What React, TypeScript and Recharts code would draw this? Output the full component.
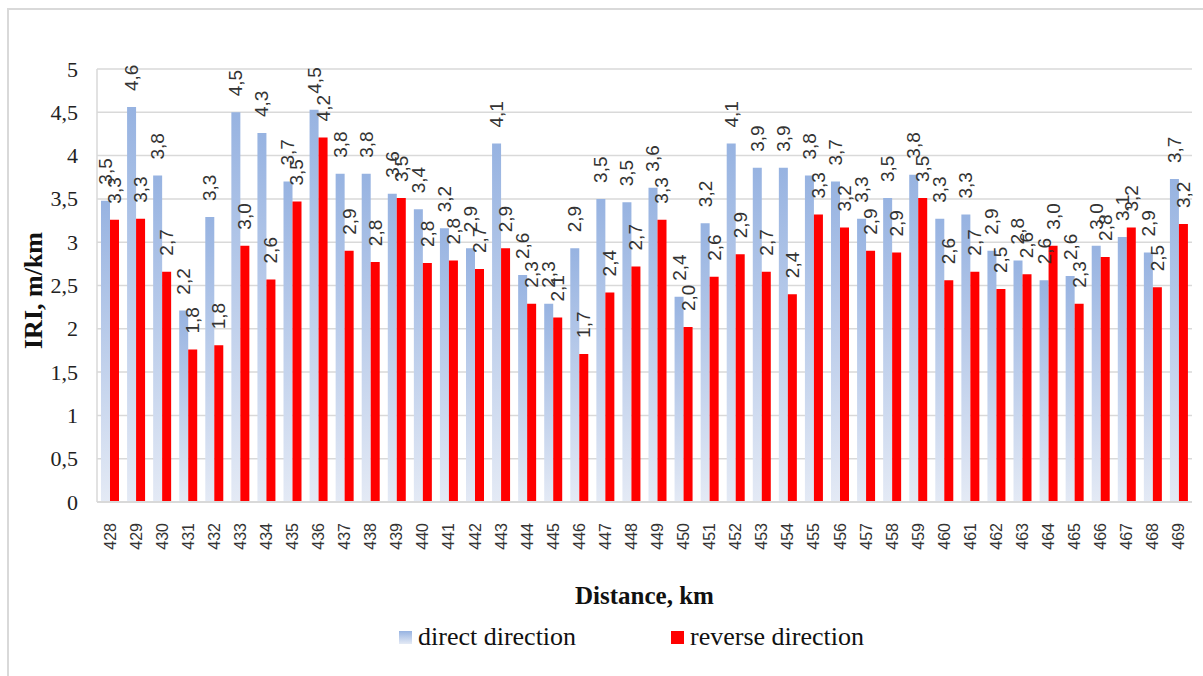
import React from "react";
import { BarChart, Bar, XAxis, YAxis, CartesianGrid, Legend, LabelList } from "recharts";

// km markers along the road section
const distances = [
  428, 429, 430, 431, 432, 433, 434, 435, 436, 437, 438, 439, 440, 441,
  442, 443, 444, 445, 446, 447, 448, 449, 450, 451, 452, 453, 454, 455,
  456, 457, 458, 459, 460, 461, 462, 463, 464, 465, 466, 467, 468, 469,
];

// IRI, m/km - direct direction
const directIri = [
  3.48, 4.56, 3.77, 2.21, 3.29, 4.5, 4.26, 3.7, 4.53, 3.79, 3.79, 3.56, 3.38, 3.16,
  2.93, 4.14, 2.62, 2.29, 2.93, 3.5, 3.46, 3.63, 2.37, 3.22, 4.14, 3.86, 3.86, 3.77,
  3.7, 3.27, 3.51, 3.78, 3.27, 3.32, 2.9, 2.79, 2.56, 2.61, 2.96, 3.06, 2.88, 3.73,
];

// IRI, m/km - reverse direction
const reverseIri = [
  3.26, 3.27, 2.66, 1.76, 1.81, 2.96, 2.57, 3.47, 4.21, 2.9, 2.77, 3.51, 2.76, 2.79,
  2.69, 2.93, 2.29, 2.13, 1.71, 2.42, 2.72, 3.26, 2.02, 2.6, 2.86, 2.66, 2.4, 3.32,
  3.17, 2.9, 2.88, 3.51, 2.56, 2.66, 2.46, 2.63, 2.96, 2.29, 2.83, 3.17, 2.48, 3.21,
];

const yTicks = [0, 0.5, 1, 1.5, 2, 2.5, 3, 3.5, 4, 4.5, 5];
const seriesNames = ["direct direction", "reverse direction"];

const rows = distances.map((km, i) => ({
  km: String(km),
  direct: directIri[i],
  reverse: reverseIri[i],
}));

const SERIF = '"Liberation Serif", "Times New Roman", serif';
const SANS = '"Liberation Sans", Arial, sans-serif';
const RED = "#ff0000";
const GRID = "#d9d9d9";

const comma = (v: number, digits = 1) => v.toFixed(digits).replace(".", ",");

function ValueLabel(props: any) {
  const { x, y, width, value } = props;
  const cx = Number(x) + Number(width) / 2;
  const top = Number(y) - 16;
  return (
    <text
      x={cx}
      y={top}
      transform={`rotate(-90, ${cx}, ${top})`}
      textAnchor="start"
      dominantBaseline="central"
      fontFamily={SANS}
      fontSize={19}
      fill="#333"
    >
      {comma(Number(value))}
    </text>
  );
}

function KmTick(props: any) {
  const { x, y, payload } = props;
  const ty = Number(y) + 13;
  return (
    <text
      x={x}
      y={ty}
      transform={`rotate(-90, ${x}, ${ty})`}
      textAnchor="end"
      dominantBaseline="central"
      fontFamily={SANS}
      fontSize={16}
      fill="#333"
    >
      {payload.value}
    </text>
  );
}

function IriTick(props: any) {
  const { x, y, payload } = props;
  return (
    <text x={x} y={y} textAnchor="end" dominantBaseline="central" fontFamily={SERIF} fontSize={22} fill="#222">
      {payload.value === 0 ? "0" : String(payload.value).replace(".", ",")}
    </text>
  );
}

const xTitle = (props: any) => {
  const vb = props.viewBox;
  return (
    <text
      x={vb.x + vb.width / 2}
      y={vb.y + 102}
      textAnchor="middle"
      fontFamily={SERIF}
      fontWeight="bold"
      fontSize={25}
      fill="#111"
    >
      Distance, km
    </text>
  );
};

const yTitle = (props: any) => {
  const vb = props.viewBox;
  const tx = vb.x + 42;
  const ty = vb.y + vb.height / 2 + 5;
  return (
    <text
      x={tx}
      y={ty}
      transform={`rotate(-90, ${tx}, ${ty})`}
      textAnchor="middle"
      fontFamily={SERIF}
      fontWeight="bold"
      fontSize={26}
      fill="#111"
    >
      IRI, m/km
    </text>
  );
};

function SeriesKey() {
  const swatches = ["linear-gradient(#97b3e1, #e4eaf5)", RED];
  const lefts = [399, 671];
  return (
    <div style={{ position: "relative", height: 44, width: 1203 }}>
      {seriesNames.map((name, i) => (
        <div
          key={name}
          style={{
            position: "absolute",
            left: lefts[i],
            top: 0,
            height: 44,
            display: "flex",
            alignItems: "center",
            fontFamily: SERIF,
            fontSize: 26,
            color: "#111",
            whiteSpace: "nowrap",
          }}
        >
          <span style={{ display: "inline-block", width: 13, height: 13, background: swatches[i], marginRight: 6 }} />
          {name}
        </div>
      ))}
    </div>
  );
}

export default function App() {
  return (
    <div style={{ position: "fixed", left: 0, top: 0, width: 1203, height: 676, background: "#fff", overflow: "hidden" }}>
      <div
        style={{
          position: "absolute",
          left: 7,
          top: 8,
          width: 1300,
          height: 700,
          borderTop: `2px solid ${GRID}`,
          borderLeft: `2px solid ${GRID}`,
        }}
      />
      <BarChart
        width={1203}
        height={676}
        data={rows}
        margin={{ top: 69, right: 11, left: 0, bottom: 20 }}
        barCategoryGap={4}
        barGap={0}
        style={{ position: "absolute", left: 0, top: 0 }}
      >
        <defs>
          <linearGradient id="directFill" x1="0" y1="0" x2="0" y2="1">
            <stop offset="0%" stopColor="#97b3e1" />
            <stop offset="100%" stopColor="#e4eaf5" />
          </linearGradient>
        </defs>
        <CartesianGrid vertical={false} stroke={GRID} strokeWidth={1.5} />
        <XAxis
          dataKey="km"
          interval={0}
          height={110}
          tickLine={false}
          axisLine={{ stroke: GRID, strokeWidth: 2 }}
          tick={<KmTick />}
          label={xTitle}
        />
        <YAxis
          domain={[0, 5]}
          ticks={yTicks}
          width={97}
          tickLine={false}
          tickSize={0}
          tickMargin={19}
          axisLine={{ stroke: GRID, strokeWidth: 1.5 }}
          tick={<IriTick />}
          label={yTitle}
          allowDataOverflow
        />
        <Legend
          verticalAlign="bottom"
          content={() => <SeriesKey />}
          wrapperStyle={{ left: 0, width: 1203, bottom: 17 }}
        />
        <Bar dataKey="direct" name={seriesNames[0]} fill="url(#directFill)" isAnimationActive={false}>
          <LabelList dataKey="direct" content={<ValueLabel />} />
        </Bar>
        <Bar dataKey="reverse" name={seriesNames[1]} fill={RED} isAnimationActive={false}>
          <LabelList dataKey="reverse" content={<ValueLabel />} />
        </Bar>
      </BarChart>
    </div>
  );
}
